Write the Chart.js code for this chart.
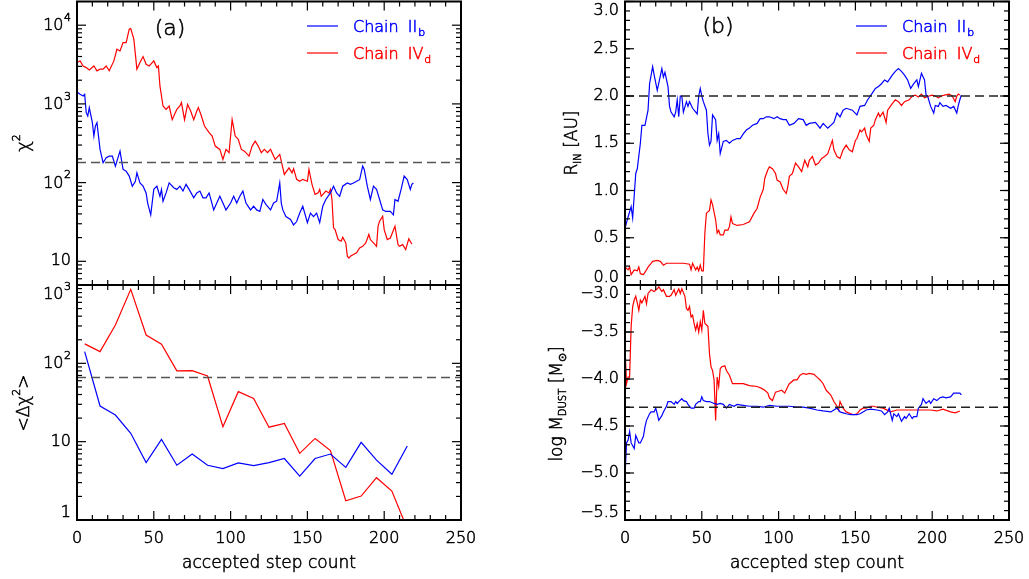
<!DOCTYPE html>
<html>
<head>
<meta charset="utf-8">
<script src="https://cdn.jsdelivr.net/npm/chart.js@4.4.1/dist/chart.umd.min.js"></script>
<style>
  html, body { margin: 0; padding: 0; background: #fff; }
  #wrap { position: relative; width: 1029px; height: 579px; }
  #wrap canvas { position: absolute; left: 0; top: 0; }
</style>
</head>
<body>
<div id="wrap">
  <canvas id="cTL" width="1029" height="579"></canvas>
  <canvas id="cBL" width="1029" height="579"></canvas>
  <canvas id="cTR" width="1029" height="579"></canvas>
  <canvas id="cBR" width="1029" height="579"></canvas>
</div>
<script>
/*
 * Two MCMC chains (II_b blue, IV_d red) vs accepted step count.
 * (a) chi^2 and binned <dchi^2>, (b) R_in and log M_dust.
 */

// ---- (a) top: chi^2 along each chain
const chiStepsB = [0,2,4,5,6,7,8,10,11,12,13,14,15,17,19,21,23,25,27,28,30,32,34,36,38,39,41,43,45,46,48,50,52,54,55,56,58,60,63,65,67,69,71,73,76,78,80,82,84,86,89,91,93,95,97,100,102,104,106,108,110,113,115,117,119,121,123,126,128,130,132,133,134,136,139,141,143,145,147,150,152,154,156,158,160,162,165,167,169,171,173,176,178,180,182,184,186,187,189,191,193,195,197,199,201,204,206,207,209,211,213,215,217,218,219];
const chiB = [1415,1323,1260,1323,773,702,895,577,390,524,577,390,264,179,207,217,217,162,217,251,147,140,121,90,104,133,99,90,74,55,39,82,90,67,82,58,74,99,86,82,90,78,95,82,64,74,78,64,64,74,45,55,67,55,45,55,67,55,67,78,55,45,50,45,43,61,53,45,55,58,99,55,45,37,34,29,32,41,50,31,41,37,41,31,50,61,74,90,74,67,90,99,95,99,104,109,162,147,90,61,90,82,61,45,43,43,39,61,58,82,121,109,82,95,99];
const chiStepsD = [0,2,4,6,8,11,13,15,17,19,21,24,26,28,30,32,34,35,37,39,41,43,45,47,49,50,52,53,54,56,58,60,62,65,67,68,70,72,74,76,78,79,81,83,86,88,90,93,95,97,99,101,103,105,107,109,112,114,116,118,120,122,124,126,129,131,132,134,135,138,140,141,143,145,147,150,151,153,155,157,158,159,162,164,165,166,167,168,170,172,173,175,176,177,178,180,182,184,186,188,190,191,193,195,196,197,199,200,202,204,207,209,210,212,214,216,218];
const chiD = [3350,3520,3030,2890,2700,3030,2630,2760,2760,3030,2630,3520,4950,4710,6020,6020,8900,9070,6640,2760,3350,3990,3190,3030,3350,3520,2890,3030,1690,940,852,940,630,852,940,1040,630,986,813,630,813,896,702,524,431,390,291,264,197,264,240,630,390,354,264,251,217,291,337,291,240,264,240,264,197,217,228,154,127,154,133,150,110,104,110,104,147,95,71,74,82,67,78,74,82,61,26.6,25.3,18.9,18.0,20.2,17.1,11.6,11.0,11.6,12.2,12.8,14.8,15.5,17.1,21.9,18.9,17.1,15.5,27.9,32.4,37.4,25.3,18.9,19.8,27.9,16.3,15.5,16.3,14.1,19.3,16.6];

// ---- (a) bottom: <dchi^2> in 10-step bins
const binSteps = [5,15,25,35,45,55,65,75,85,95,105,115,125,135,145,155,165,175,185,195,205,215];
const dchiB = [141,28.5,21.9,12.8,5.4,10.7,5.0,6.95,5.0,4.52,5.35,4.95,5.4,6.1,3.64,6.1,6.95,4.7,9.8,5.8,3.83,8.8];
const dchiD = [177,141,308,881,230,175,80,80.5,69,15.5,43.5,35.7,15.3,17.1,7.1,11.0,7.7,1.76,2.02,3.47,2.34,0.77];

// ---- (b) top: inner radius [AU]
const rinStepsB = [0,2,4,5,7,8,10,11,13,15,16,18,19,21,24,25,26,28,29,30,32,33,34,35,36,37,38,40,41,42,44,45,47,48,49,50,51,53,54,55,56,57,59,60,61,62,64,66,68,70,73,75,77,79,81,83,86,88,90,92,94,97,99,101,103,105,107,110,113,116,118,120,124,127,129,132,136,138,140,142,144,148,151,153,156,158,161,163,165,167,169,171,174,176,178,180,182,184,186,188,190,191,193,195,196,197,199,201,202,204,205,207,209,212,214,216,217,218,219];
const rinB = [0.6,0.72,0.83,0.71,1.18,1.23,1.5,1.69,1.69,1.85,2.13,2.31,2.22,2.06,2.29,2.2,2.25,2.1,1.89,1.83,1.78,1.83,1.96,1.78,2.0,2.0,1.83,1.94,1.89,1.94,1.87,1.85,1.81,2.0,2.08,2.0,1.94,1.85,1.6,1.48,1.52,1.8,1.75,1.53,1.6,1.39,1.52,1.53,1.5,1.53,1.55,1.55,1.6,1.64,1.66,1.69,1.71,1.76,1.76,1.78,1.78,1.76,1.78,1.76,1.75,1.75,1.69,1.71,1.76,1.75,1.69,1.71,1.72,1.66,1.71,1.66,1.72,1.82,1.78,1.85,1.87,1.85,1.8,1.89,1.9,1.96,2.03,2.08,2.1,2.13,2.17,2.15,2.22,2.26,2.29,2.26,2.22,2.17,2.08,2.13,2.17,2.1,2.24,2.17,2.01,2.0,1.89,1.82,1.9,1.89,1.93,1.89,1.9,1.87,1.89,1.82,1.9,1.96,2.01];
const rinStepsD = [0,2,3,4,6,8,9,10,12,14,15,17,18,21,23,25,27,29,34,38,42,43,44,46,47,48,49,50,51,52,53,55,56,57,59,60,61,62,64,65,67,68,69,70,73,77,81,84,86,88,90,91,93,94,96,98,99,101,103,105,106,107,109,111,113,115,117,119,120,122,124,126,128,130,132,135,136,138,140,142,144,146,148,150,151,153,154,156,157,159,160,162,163,165,166,168,170,171,174,176,178,180,182,185,187,189,191,193,195,198,200,202,204,206,208,211,213,215,216,217,218];
const rinD = [0.19,0.16,0.19,0.11,0.16,0.15,0.19,0.12,0.11,0.16,0.19,0.23,0.25,0.26,0.25,0.21,0.23,0.23,0.23,0.23,0.22,0.16,0.23,0.16,0.19,0.15,0.21,0.15,0.15,0.55,0.76,0.79,0.9,0.85,0.69,0.55,0.58,0.53,0.53,0.58,0.58,0.62,0.72,0.65,0.63,0.64,0.67,0.76,0.81,0.93,1.01,1.13,1.22,1.25,1.23,1.18,1.11,1.09,1.01,0.97,1.04,1.15,1.18,1.29,1.25,1.2,1.32,1.25,1.32,1.36,1.27,1.29,1.34,1.36,1.39,1.53,1.43,1.36,1.34,1.43,1.48,1.43,1.41,1.53,1.55,1.64,1.62,1.66,1.59,1.52,1.66,1.69,1.75,1.82,1.78,1.83,1.72,1.85,1.92,1.96,1.94,1.9,1.94,1.96,2.0,2.01,1.99,2.02,1.98,2.0,2.01,2.0,1.98,2.0,2.01,2.02,2.0,1.94,2.0,2.02,2.01];

// ---- (b) bottom: log dust mass [Msun]
const mdStepsB = [0,1,2,3,4,6,7,9,10,12,13,14,16,17,19,20,21,22,24,25,27,28,30,32,33,34,35,37,38,40,41,43,45,46,48,49,50,51,53,55,58,60,62,64,66,68,71,73,77,81,86,90,94,99,103,107,112,116,120,125,129,134,136,138,140,142,144,147,149,151,153,155,157,160,164,167,169,171,172,174,175,177,178,180,182,183,185,187,188,190,191,193,194,196,198,199,201,203,205,207,209,212,214,216,218,219];
const mdB = [-5.04,-4.68,-4.65,-4.56,-4.68,-4.74,-4.6,-4.68,-4.68,-4.61,-4.51,-4.44,-4.37,-4.35,-4.35,-4.31,-4.37,-4.44,-4.39,-4.35,-4.29,-4.24,-4.24,-4.27,-4.24,-4.26,-4.24,-4.21,-4.23,-4.24,-4.27,-4.31,-4.31,-4.27,-4.24,-4.24,-4.19,-4.23,-4.24,-4.24,-4.26,-4.27,-4.26,-4.27,-4.31,-4.27,-4.29,-4.27,-4.28,-4.29,-4.29,-4.3,-4.28,-4.29,-4.29,-4.29,-4.3,-4.3,-4.31,-4.33,-4.34,-4.35,-4.33,-4.31,-4.35,-4.36,-4.37,-4.38,-4.38,-4.38,-4.37,-4.35,-4.33,-4.32,-4.33,-4.34,-4.38,-4.35,-4.31,-4.44,-4.37,-4.4,-4.37,-4.45,-4.4,-4.42,-4.37,-4.42,-4.4,-4.4,-4.31,-4.27,-4.21,-4.26,-4.23,-4.26,-4.21,-4.23,-4.2,-4.19,-4.2,-4.19,-4.15,-4.15,-4.15,-4.17];
const mdStepsD = [0,1,2,3,4,5,6,7,8,9,10,11,13,14,15,16,17,19,21,22,24,25,27,29,30,32,33,35,36,37,39,40,41,42,43,44,45,46,47,48,49,50,51,52,54,55,56,57,58,59,60,61,62,63,65,66,68,70,73,77,81,86,89,91,93,94,96,98,100,102,104,106,107,110,112,114,116,118,120,123,125,127,129,131,134,136,138,139,140,142,144,147,149,151,153,155,157,160,162,164,168,173,177,181,186,190,194,199,203,207,212,215,218];
const mdD = [-3.66,-4.05,-3.98,-3.98,-3.44,-3.23,-3.16,-3.12,-3.19,-3.27,-3.16,-3.19,-3.12,-3.2,-3.09,-3.07,-3.05,-3.07,-3.04,-3.02,-3.07,-3.05,-3.12,-3.12,-3.11,-3.05,-3.11,-3.04,-3.09,-3.04,-3.12,-3.25,-3.27,-3.23,-3.34,-3.32,-3.41,-3.48,-3.41,-3.5,-3.39,-3.48,-3.27,-3.41,-3.44,-3.73,-3.87,-3.91,-4.01,-4.44,-3.98,-4.08,-3.89,-3.87,-3.86,-3.91,-3.96,-4.05,-4.05,-4.05,-4.07,-4.08,-4.1,-4.12,-4.15,-4.2,-4.23,-4.14,-4.13,-4.12,-4.15,-4.08,-4.05,-4.01,-4.01,-3.96,-3.94,-3.95,-3.94,-3.95,-3.98,-4.01,-4.05,-4.12,-4.17,-4.24,-4.29,-4.33,-4.24,-4.31,-4.35,-4.37,-4.38,-4.37,-4.33,-4.31,-4.31,-4.29,-4.29,-4.3,-4.31,-4.35,-4.33,-4.33,-4.33,-4.33,-4.33,-4.33,-4.34,-4.32,-4.35,-4.36,-4.34];

// dashed reference levels
const refChi = 180, refDchi = 66, refRin = 2.0, refMd = -4.3;

// axis ticks and labels
const xMajor = [0, 50, 100, 150, 200, 250];
const chiTicks = [10, 100, 1000, 10000];
const chiLabels = [['10', ''], ['10', '2'], ['10', '3'], ['10', '4']];
const dchiTicks = [1, 10, 100, 1000];
const dchiLabels = [['1', ''], ['10', ''], ['10', '2'], ['10', '3']];
const rinTicks = [0, 0.5, 1.0, 1.5, 2.0, 2.5, 3.0];
const mdTicks = [-5.5, -5.0, -4.5, -4.0, -3.5, -3.0];

const BLUE = '#0000ff', RED = '#ff0000';
const FAM = '"DejaVu Sans", sans-serif';
const WT = '200 ';   // thin face, thickened a little by a hairline stroke

function pts(steps, vals) { return steps.map((s, i) => ({ x: s, y: vals[i] })); }
function flat(v) { return [{ x: 0, y: v }, { x: 250, y: v }]; }
function font(px) { return WT + px + 'px ' + FAM; }

function linMinor(lo, hi, step) {
  const out = [];
  for (let v = lo; v <= hi + 1e-9; v += step) out.push(+v.toFixed(3));
  return out;
}
function logMinor(lo, hi) {
  const out = [];
  for (let d = 1; d <= 1e5; d *= 10)
    for (let m = 2; m <= 9; m++) if (m * d > lo && m * d < hi) out.push(m * d);
  return out;
}

function txt(ctx, t, x, y) {
  ctx.save();
  ctx.lineWidth = 0.55;
  ctx.strokeStyle = ctx.fillStyle;
  ctx.fillText(t, x, y);
  ctx.strokeText(t, x, y);
  ctx.restore();
}

function drawRich(ctx, parts, x, y) {
  let cx = x;
  for (const [t, size, dy] of parts) {
    ctx.font = font(size);
    txt(ctx, t, cx, y + dy);
    cx += ctx.measureText(t).width;
  }
  return cx - x;
}
function richWidth(ctx, parts) {
  let w = 0;
  for (const [t, size] of parts) { ctx.font = font(size); w += ctx.measureText(t).width; }
  return w;
}

const framePlugin = {
  id: 'frame',
  afterDatasetsDraw(chart, args, o) {
    const ctx = chart.ctx, a = chart.chartArea;
    const xs = chart.scales.x, ys = chart.scales.y;
    const seg = (x1, y1, x2, y2) => { ctx.beginPath(); ctx.moveTo(x1, y1); ctx.lineTo(x2, y2); ctx.stroke(); };
    ctx.save();
    ctx.strokeStyle = '#000';
    ctx.fillStyle = '#000';

    // ticks, inward on all four sides
    ctx.lineWidth = 1.2;
    for (let v = 0; v <= 250; v += 10) {
      const px = xs.getPixelForValue(v), len = v % 50 === 0 ? 9 : 5;
      seg(px, a.bottom, px, a.bottom - len);
      seg(px, a.top, px, a.top + len);
    }
    o.yMajor.forEach(v => {
      const py = ys.getPixelForValue(v);
      seg(a.left, py, a.left + 9, py); seg(a.right, py, a.right - 9, py);
    });
    o.yMinor.forEach(v => {
      const py = ys.getPixelForValue(v);
      seg(a.left, py, a.left + 5, py); seg(a.right, py, a.right - 5, py);
    });
    ctx.lineWidth = 2;
    ctx.strokeRect(a.left, a.top, a.right - a.left, a.bottom - a.top);

    // y tick labels
    ctx.textBaseline = 'middle';
    ctx.textAlign = 'right';
    const right = a.left - 6;
    o.yLabels.forEach(([v, base, exp]) => {
      const py = Math.min(Math.max(ys.getPixelForValue(v), a.top + 9), a.bottom - 7);
      if (exp) {
        ctx.font = font(11);
        const ew = ctx.measureText(exp).width;
        txt(ctx, exp, right, py - 7);
        ctx.font = font(16);
        txt(ctx, base, right - ew - 0.5, py + 1);
      } else {
        ctx.font = font(16);
        txt(ctx, base, right, py);
      }
    });

    // x tick labels + title (bottom panels only)
    if (o.xLabels) {
      ctx.textAlign = 'center';
      ctx.font = font(16);
      xMajor.forEach(v => txt(ctx, String(v), xs.getPixelForValue(v), a.bottom + 19));
      ctx.font = font(17);
      txt(ctx, 'accepted step count', (a.left + a.right) / 2, a.bottom + 44);
    }

    // rotated y title
    if (o.yTitle) {
      const t = o.yTitle;
      ctx.save();
      ctx.translate(t.x, t.y);
      ctx.rotate(-Math.PI / 2);
      ctx.textAlign = 'left';
      ctx.textBaseline = 'alphabetic';
      drawRich(ctx, t.parts, -richWidth(ctx, t.parts) / 2, 0);
      ctx.restore();
    }

    // legend
    if (o.legend) {
      const L = o.legend;
      ctx.textAlign = 'left';
      ctx.textBaseline = 'alphabetic';
      [[BLUE, 'II', 'b', L.y0], [RED, 'IV', 'd', L.y0 + 27]].forEach(([col, num, sub, y]) => {
        ctx.strokeStyle = col; ctx.fillStyle = col; ctx.lineWidth = 1.2;
        seg(L.x0, y, L.x0 + 31, y);
        let x = L.x0 + 46;
        ctx.font = font(16);
        txt(ctx, 'Chain', x, y + 6);
        x += ctx.measureText('Chain').width + 9;
        txt(ctx, num, x, y + 6);
        x += ctx.measureText(num).width + 1;
        ctx.font = font(11);
        txt(ctx, sub, x, y + 10);
      });
    }

    // panel tag
    if (o.tag) {
      ctx.fillStyle = '#000';
      ctx.textAlign = 'center';
      ctx.textBaseline = 'middle';
      ctx.font = font(22);
      txt(ctx, o.tag[0], o.tag[1], o.tag[2]);
    }
    ctx.restore();
  }
};

function line(data, color, dash) {
  return {
    data, borderColor: color, borderWidth: dash ? 1.4 : 1.2,
    borderDash: dash || [], pointRadius: 0, tension: 0, fill: false,
  };
}

function makeChart(id, padding, yScale, datasets, frame) {
  return new Chart(document.getElementById(id), {
    type: 'line',
    data: { datasets },
    options: {
      responsive: false,
      animation: false,
      events: [],
      layout: { padding },
      plugins: { legend: { display: false }, tooltip: { enabled: false }, frame },
      scales: {
        x: { type: 'linear', min: 0, max: 250, display: false },
        y: Object.assign({ display: false }, yScale),
      },
    },
    plugins: [framePlugin],
  });
}

makeChart('cTL', { left: 77, top: 1.5, right: 568, bottom: 294 },
  { type: 'logarithmic', min: 5, max: 20000 },
  [line(flat(refChi), '#555', [9, 5]), line(pts(chiStepsB, chiB), BLUE), line(pts(chiStepsD, chiD), RED)],
  {
    yMajor: chiTicks, yMinor: logMinor(5, 20000),
    yLabels: chiTicks.map((v, i) => [v, chiLabels[i][0], chiLabels[i][1]]),
    xLabels: false,
    yTitle: { x: 29, y: 143, parts: [['χ', 18, 0], ['2', 11, -9]] },
    legend: { x0: 307, y0: 26 },
    tag: ['(a)', 170, 29],
  });

makeChart('cBL', { left: 77, top: 285, right: 568, bottom: 59 },
  { type: 'logarithmic', min: 1, max: 1000 },
  [line(flat(refDchi), '#555', [9, 5]), line(pts(binSteps, dchiB), BLUE), line(pts(binSteps, dchiD), RED)],
  {
    yMajor: dchiTicks, yMinor: logMinor(1, 1000),
    yLabels: dchiTicks.map((v, i) => [v, dchiLabels[i][0], dchiLabels[i][1]]),
    xLabels: true,
    yTitle: { x: 29, y: 403, parts: [['<', 17, 0], ['Δ', 17, 0], ['χ', 17, 0], ['2', 11, -9], ['>', 17, 0]] },
  });

makeChart('cTR', { left: 625, top: 1.5, right: 20, bottom: 294 },
  { type: 'linear', min: 0, max: 3 },
  [line(flat(refRin), '#222', [9, 5]), line(pts(rinStepsB, rinB), BLUE), line(pts(rinStepsD, rinD), RED)],
  {
    yMajor: rinTicks, yMinor: linMinor(0, 3, 0.1),
    yLabels: rinTicks.map(v => [v, v.toFixed(1), '']),
    xLabels: false,
    yTitle: { x: 577, y: 143, parts: [['R', 17, 0], ['IN', 10, 4], [' [AU]', 17, 0]] },
    legend: { x0: 856, y0: 26 },
    tag: ['(b)', 718, 27],
  });

makeChart('cBR', { left: 625, top: 285, right: 20, bottom: 59 },
  { type: 'linear', min: -5.5, max: -3 },
  [line(flat(refMd), '#222', [9, 5]), line(pts(mdStepsB, mdB), BLUE), line(pts(mdStepsD, mdD), RED)],
  {
    yMajor: mdTicks, yMinor: linMinor(-5.5, -3, 0.1),
    yLabels: mdTicks.map(v => [v, '\u2212' + Math.abs(v).toFixed(1), '']),
    xLabels: true,
    yTitle: { x: 562, y: 404, parts: [['log M', 17, 0], ['DUST', 10, 4], [' [M', 17, 0], ['\u2299', 11, 4], [']', 17, 0]] },
  });
</script>
</body>
</html>
